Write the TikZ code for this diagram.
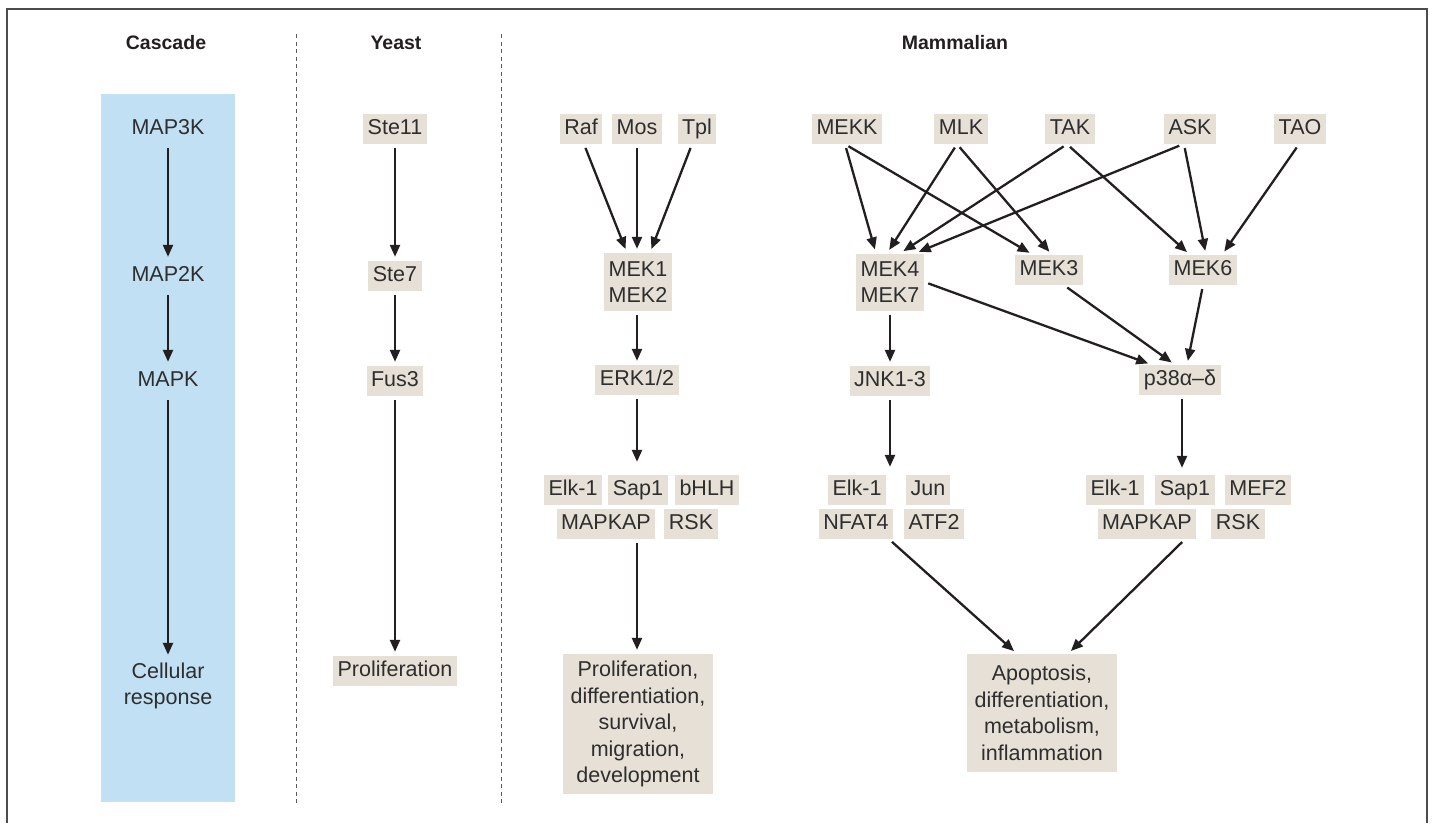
\documentclass[tikz,border=0pt]{standalone}
\usepackage{fontspec}
\setmainfont{Liberation Sans}
\usetikzlibrary{arrows.meta}
\definecolor{beige}{HTML}{E6E0D6}
\definecolor{skyb}{HTML}{C2E0F4}
\definecolor{ink}{HTML}{231F20}
\definecolor{txt}{HTML}{2E2E2E}
\begin{document}
\begin{tikzpicture}[x=1pt,y=-1pt,
 lbl/.style={font=\fontsize{21.5}{26}\selectfont, text=txt, inner xsep=4.5pt, inner ysep=0pt, minimum height=30pt, text height=15.5pt, text depth=4.5pt},
 bx/.style={lbl, fill=beige},
 mbx/.style={font=\fontsize{21.5}{26.5}\selectfont, text=txt, fill=beige, align=center, inner xsep=5pt, inner ysep=4pt},
 mlbl/.style={font=\fontsize{21.5}{26}\selectfont, text=txt, align=center, inner xsep=0pt, inner ysep=4pt},
 hdr/.style={font=\fontsize{19.5}{22}\selectfont\bfseries, text=ink},
 arr/.style={-{Triangle[length=12pt,width=10pt]}, line width=2.3pt, draw=ink, shorten <=4pt, shorten >=4pt},
 sepline/.style={draw=gray!70!black, line width=1pt, dash pattern=on 4pt off 3.5pt}
]
\useasboundingbox (0,0) rectangle (1435,823);
% frame
\draw[draw=gray!60!black, line width=1.5pt] (7,823) -- (7,9) -- (1427,9) -- (1427,823);
% separators
\draw[sepline] (296,34) -- (296,803);
\draw[sepline] (501,34) -- (501,803);
% blue column
\fill[skyb] (101,94) rectangle (235,802);
% headers
\node[hdr] (hc) at (166,43) {Cascade};
\node[hdr] (hy) at (396,43) {Yeast};
\node[hdr] (hm) at (955,43) {Mammalian};
% cascade
\node[lbl] (c1) at (168,129) {MAP3K};
\node[lbl] (c2) at (168,276) {MAP2K};
\node[lbl] (c3) at (168,381) {MAPK};
\node[mlbl] (c4) at (168,686) {Cellular\\response};
\draw[arr] (c1) -- (c2);
\draw[arr] (c2) -- (c3);
\draw[arr] (c3) -- (c4);
% yeast
\node[bx] (y1) at (395,129) {Ste11};
\node[bx] (y2) at (395,276) {Ste7};
\node[bx] (y3) at (395,381) {Fus3};
\node[bx] (y4) at (395,671) {Proliferation};
\draw[arr] (y1) -- (y2);
\draw[arr] (y2) -- (y3);
\draw[arr] (y3) -- (y4);
% ERK pathway
\node[bx] (raf) at (581,129) {Raf};
\node[bx] (mos) at (637,129) {Mos};
\node[bx] (tpl) at (697,129) {Tpl};
\node[mbx, minimum width=68pt, minimum height=58pt] (mek12) at (638,282) {MEK1\\MEK2};
\node[bx] (erk) at (637,380) {ERK1/2};
\node[bx] (eelk) at (573,490) {Elk-1};
\node[bx] (esap) at (638,490) {Sap1};
\node[bx] (ebhlh) at (707,490) {bHLH};
\node[bx] (emapkap) at (606,524) {MAPKAP};
\node[bx] (ersk) at (691,524) {RSK};
\node[mbx, minimum width=150pt, minimum height=140pt] (eres) at (638,724) {Proliferation,\\differentiation,\\survival,\\migration,\\development};
\draw[arr] ([xshift=3pt]raf.south) -- ([xshift=-11pt]mek12.north);
\draw[arr] (mos.south) -- (mos.south |- mek12.north);
\draw[arr] ([xshift=-5pt]tpl.south) -- ([xshift=12pt]mek12.north);
\draw[arr] (erk.north |- mek12.south) -- (erk.north);
\draw[arr, shorten >=13pt] (erk.south) -- (erk.south |- esap.north);
\draw[arr] (emapkap.south -| erk.south) -- (erk.south |- eres.north);
% JNK / p38 pathways
\node[bx] (mekk) at (847,129) {MEKK};
\node[bx] (mlk) at (961,129) {MLK};
\node[bx] (tak) at (1070,129) {TAK};
\node[bx] (ask) at (1190,129) {ASK};
\node[bx] (tao) at (1300,129) {TAO};
\node[mbx, minimum width=67pt, minimum height=57pt] (mek47) at (890,282) {MEK4\\MEK7};
\node[bx] (mek3) at (1049,270) {MEK3};
\node[bx] (mek6) at (1203,270) {MEK6};
\node[bx] (jnk) at (890,381) {JNK1-3};
\node[bx] (p38) at (1180,380) {p38α–δ};
\node[bx] (jelk) at (857,490) {Elk-1};
\node[bx] (jjun) at (928,490) {Jun};
\node[bx] (jnfat) at (856,524) {NFAT4};
\node[bx] (jatf) at (934,524) {ATF2};
\node[bx] (pelk) at (1115,490) {Elk-1};
\node[bx] (psap) at (1185,490) {Sap1};
\node[bx] (pmef) at (1258,490) {MEF2};
\node[bx] (pmapkap) at (1147,524) {MAPKAP};
\node[bx] (prsk) at (1238,524) {RSK};
\node[mbx, minimum width=150pt, minimum height=118pt] (apop) at (1042,713) {Apoptosis,\\differentiation,\\metabolism,\\inflammation};
\draw[arr] ([xshift=-2pt]mekk.south) -- ([xshift=-14pt]mek47.north);
\draw[arr] ([xshift=-2pt]mekk.south) -- ([xshift=-16pt]mek3.north);
\draw[arr] ([xshift=-4pt]mlk.south) -- ([xshift=-3pt]mek47.north);
\draw[arr] ([xshift=-4pt]mlk.south) -- ([xshift=3pt]mek3.north);
\draw[arr] ([xshift=-3pt]tak.south) -- ([xshift=10pt]mek47.north);
\draw[arr] ([xshift=-3pt]tak.south) -- ([xshift=-13pt]mek6.north);
\draw[arr] ([xshift=-7pt]ask.south) -- ([xshift=25pt]mek47.north);
\draw[arr] ([xshift=-6pt]ask.south) -- ([xshift=3pt]mek6.north);
\draw[arr] ([xshift=-1pt]tao.south) -- ([xshift=19pt]mek6.north);
\draw[arr] (mek47.east) -- ([xshift=-28pt]p38.north);
\draw[arr] ([xshift=15pt]mek3.south) -- ([xshift=-5pt]p38.north);
\draw[arr] (mek6.south) -- ([xshift=7pt]p38.north);
\draw[arr] (mek47.south) -- (mek47.south |- jnk.north);
\draw[arr, shorten >=8pt] (jnk.south) -- (jnk.south |- jelk.north);
\draw[arr, shorten >=7pt] ([xshift=2pt]p38.south) -- ([xshift=2pt]p38.south |- psap.north);
\draw[arr] ([xshift=33pt]jnfat.south) -- ([xshift=-25pt]apop.north);
\draw[arr] ([xshift=38pt]pmapkap.south) -- ([xshift=26pt]apop.north);
\end{tikzpicture}
\end{document}
